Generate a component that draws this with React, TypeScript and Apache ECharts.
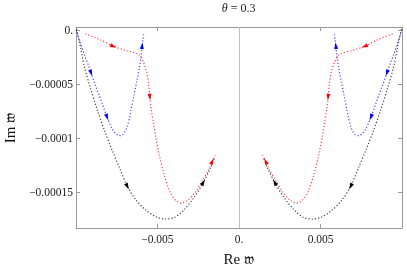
import { useEffect, useRef } from 'react';
import * as echarts from 'echarts';

// ---- axis ticks ----
const xTickValues = [-0.005, 0, 0.005];
const xTickLabels = ['\u22120.005', '0.', '0.005'];
const yTickValues = [0, -0.00005, -0.0001, -0.00015];
const yTickLabels = ['0.', '\u22120.00005', '\u22120.0001', '\u22120.00015'];
const xRange = [-0.00998, 0.00998];
const yRange = [-0.000183, 0.000003];

const titleText = '{i|\u03b8} = 0.3';
const xName = 'Re \ud835\udd34';
const yName = 'Im \ud835\udd34';

// ---- curves (Re, Im) ----
const blackLeft: number[][] = [
  [-0.009957, 0.000001], [-0.009712, -0.0000153], [-0.009468, -0.0000339], [-0.0091, -0.0000534],
  [-0.008672, -0.0000739], [-0.008244, -0.0000925], [-0.007815, -0.0001092], [-0.007326, -0.0001269],
  [-0.006836, -0.0001445], [-0.006285, -0.0001575], [-0.005673, -0.0001668], [-0.005061, -0.0001729],
  [-0.00451, -0.0001747], [-0.00396, -0.0001733], [-0.003409, -0.0001668], [-0.002797, -0.0001557],
  [-0.002185, -0.0001408], [-0.001756, -0.0001278], [-0.001512, -0.0001185],
];
const blackRight: number[][] = [
  [0.009957, 0.000001], [0.009712, -0.0000153], [0.009468, -0.0000339], [0.0091, -0.0000534],
  [0.008672, -0.0000739], [0.008244, -0.0000925], [0.007815, -0.0001092], [0.007326, -0.0001269],
  [0.006836, -0.0001445], [0.006285, -0.0001575], [0.005673, -0.0001668], [0.005061, -0.0001729],
  [0.00451, -0.0001747], [0.00396, -0.0001733], [0.003409, -0.0001668], [0.002797, -0.0001557],
  [0.002185, -0.0001408], [0.001756, -0.0001278], [0.001512, -0.0001185],
];
const redLeft: number[][] = [
  [-0.009406, -0.0000033], [-0.008488, -0.0000088], [-0.007693, -0.0000149], [-0.006958, -0.0000186],
  [-0.006163, -0.0000223], [-0.005857, -0.0000293], [-0.005643, -0.0000395], [-0.00552, -0.0000507],
  [-0.005459, -0.0000618], [-0.005367, -0.0000739], [-0.005245, -0.000085], [-0.005092, -0.000099],
  [-0.004878, -0.0001157], [-0.004572, -0.0001343], [-0.004204, -0.0001501], [-0.003837, -0.000158],
  [-0.003531, -0.0001599], [-0.003164, -0.0001575], [-0.002736, -0.000151], [-0.002246, -0.0001389],
  [-0.001879, -0.0001296], [-0.001634, -0.0001213], [-0.00145, -0.0001157],
];
const redRight: number[][] = [
  [0.009406, -0.0000033], [0.008488, -0.0000088], [0.007693, -0.0000149], [0.006958, -0.0000186],
  [0.006163, -0.0000223], [0.005857, -0.0000293], [0.005643, -0.0000395], [0.00552, -0.0000507],
  [0.005459, -0.0000618], [0.005367, -0.0000739], [0.005245, -0.000085], [0.005092, -0.000099],
  [0.004878, -0.0001157], [0.004572, -0.0001343], [0.004204, -0.0001501], [0.003837, -0.000158],
  [0.003531, -0.0001599], [0.003164, -0.0001575], [0.002736, -0.000151], [0.002246, -0.0001389],
  [0.001879, -0.0001296], [0.001634, -0.0001213], [0.00145, -0.0001157],
];
const blueLeft: number[][] = [
  [-0.009957, 0], [-0.009712, -0.0000116], [-0.009468, -0.0000228], [-0.009253, -0.0000311],
  [-0.009058, -0.0000395], [-0.008825, -0.0000497], [-0.008592, -0.000059], [-0.008366, -0.0000683],
  [-0.008078, -0.0000804], [-0.007785, -0.0000906], [-0.00757, -0.0000953], [-0.007326, -0.0000976],
  [-0.007081, -0.0000962], [-0.006854, -0.0000897], [-0.006652, -0.0000771], [-0.00645, -0.0000618],
  [-0.006255, -0.0000469], [-0.006102, -0.0000349], [-0.005991, -0.0000237], [-0.00593, -0.0000144],
  [-0.005881, -0.0000088], [-0.005838, -0.0000037],
];
const blueRight: number[][] = [
  [0.009957, 0], [0.009712, -0.0000116], [0.009468, -0.0000228], [0.009253, -0.0000311],
  [0.009058, -0.0000395], [0.008825, -0.0000497], [0.008592, -0.000059], [0.008366, -0.0000683],
  [0.008078, -0.0000804], [0.007785, -0.0000906], [0.00757, -0.0000953], [0.007326, -0.0000976],
  [0.007081, -0.0000962], [0.006854, -0.0000897], [0.006652, -0.0000771], [0.00645, -0.0000618],
  [0.006255, -0.0000469], [0.006102, -0.0000349], [0.005991, -0.0000237], [0.00593, -0.0000144],
  [0.005881, -0.0000088], [0.005838, -0.0000037],
];

// arrow heads: indices of curve points where an arrow sits
const blackArrows = [8, 16];
const redArrows = [2, 8, 21];
const blueArrows = [4, 8, 19];

const FONT = "'Liberation Serif', 'DejaVu Serif', serif";
const FRAME = '#9a9a9a';

function fmt(values: number[], labels: string[]) {
  return (v: number) => {
    const i = values.findIndex((t) => Math.abs(t - v) < 1e-12);
    return i >= 0 ? labels[i] : '';
  };
}

export default function App() {
  const ref = useRef<HTMLDivElement>(null);
  useEffect(() => {
    const chart = echarts.init(ref.current!, null, { renderer: 'svg' });
    const curves = [
      { pts: blackLeft, color: '#000000', arrows: blackArrows },
      { pts: blackRight, color: '#000000', arrows: blackArrows },
      { pts: blueLeft, color: '#0000ff', arrows: blueArrows },
      { pts: blueRight, color: '#0000ff', arrows: blueArrows },
      { pts: redLeft, color: '#ff0000', arrows: redArrows },
      { pts: redRight, color: '#ff0000', arrows: redArrows },
    ];
    const lineSeries: any[] = curves.map((c, k) => ({
      type: 'line',
      data: c.pts,
      symbol: 'none',
      showSymbol: false,
      smooth: 0.3,
      silent: true,
      z: 3 + k,
      lineStyle: { color: c.color, width: 1.2, type: [1.2, 2], opacity: 0.75 },
    }));
    lineSeries[0].markLine = {
      silent: true,
      symbol: 'none',
      label: { show: false },
      lineStyle: { color: '#c0c0c0', width: 1, type: 'solid' },
      data: [{ xAxis: 0 }],
      z: 1,
    };
    const axisCommon = {
      type: 'value',
      splitLine: { show: false },
      axisLine: { onZero: false, lineStyle: { color: FRAME, width: 1 } },
    };
    const option: any = {
      animation: false,
      grid: { left: 76, right: 5, top: 27, bottom: 45 },
      graphic: [
        {
          type: 'text',
          x: 238.7,
          y: 8,
          style: {
            text: titleText,
            textAlign: 'center',
            textVerticalAlign: 'middle',
            font: `12px ${FONT}`,
            fill: '#222',
            rich: { i: { fontStyle: 'italic', fontFamily: FONT, fontSize: 12 } },
          },
        },
        {
          type: 'text',
          x: 238.7,
          y: 259,
          style: { text: xName, textAlign: 'center', textVerticalAlign: 'middle', font: `15px ${FONT}`, fill: '#111' },
        },
        {
          type: 'text',
          x: 9.5,
          y: 128,
          rotation: Math.PI / 2,
          style: { text: yName, textAlign: 'center', textVerticalAlign: 'middle', font: `15px ${FONT}`, fill: '#111' },
        },
      ],
      xAxis: [
        {
          ...axisCommon,
          min: xRange[0],
          max: xRange[1],
          position: 'bottom',
          axisTick: { inside: true, length: 4, customValues: xTickValues, lineStyle: { color: FRAME } },
          axisLabel: {
            customValues: xTickValues,
            formatter: fmt(xTickValues, xTickLabels),
            fontFamily: FONT,
            fontSize: 11.5,
            color: '#222',
            margin: 5,
          },
        },
        {
          ...axisCommon,
          min: xRange[0],
          max: xRange[1],
          position: 'top',
          axisTick: { inside: true, length: 4, customValues: xTickValues, lineStyle: { color: FRAME } },
          axisLabel: { show: false },
        },
      ],
      yAxis: [
        {
          ...axisCommon,
          min: yRange[0],
          max: yRange[1],
          position: 'left',
          axisTick: { inside: true, length: 4, customValues: yTickValues, lineStyle: { color: FRAME } },
          axisLabel: {
            customValues: yTickValues,
            formatter: fmt(yTickValues, yTickLabels),
            fontFamily: FONT,
            fontSize: 11.5,
            color: '#222',
            margin: 3,
          },
        },
        {
          ...axisCommon,
          min: yRange[0],
          max: yRange[1],
          position: 'right',
          axisTick: { inside: true, length: 4, customValues: yTickValues, lineStyle: { color: FRAME } },
          axisLabel: { show: false },
        },
      ],
      series: lineSeries,
    };
    chart.setOption(option);

    const arrowSeries = curves.map((c, k) => ({
      type: 'scatter',
      symbol: 'triangle',
      symbolSize: [4, 6.5],
      silent: true,
      z: 10 + k,
      itemStyle: { color: c.color, opacity: 1 },
      data: c.arrows.map((i) => {
        const p0 = chart.convertToPixel({ seriesIndex: 0 }, c.pts[i - 1]) as number[];
        const p1 = chart.convertToPixel({ seriesIndex: 0 }, c.pts[Math.min(i + 1, c.pts.length - 1)]) as number[];
        const dx = p1[0] - p0[0];
        const dy = p1[1] - p0[1];
        const rot = (Math.atan2(-dx, -dy) * 180) / Math.PI;
        return { value: c.pts[i], symbolRotate: rot };
      }),
    }));
    chart.setOption({ series: [...lineSeries, ...arrowSeries] });

    return () => chart.dispose();
  }, []);
  return <div ref={ref} style={{ position: 'fixed', left: 0, top: 0, width: 407, height: 273 }} />;
}
